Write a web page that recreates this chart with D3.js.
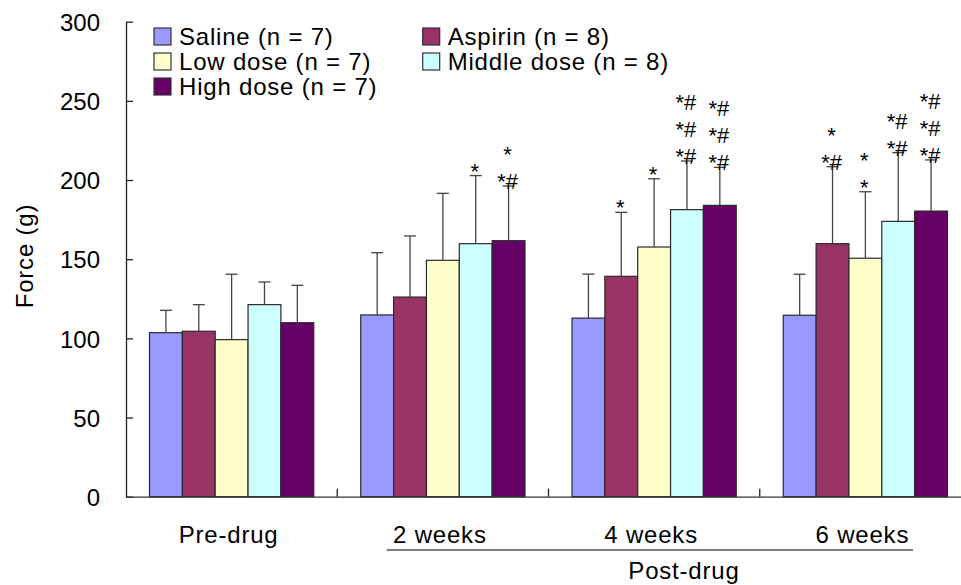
<!DOCTYPE html>
<html>
<head>
<meta charset="utf-8">
<script src="https://cdn.jsdelivr.net/npm/d3@7"></script>
<style>
  body { margin: 0; background: #fff; }
  svg { display: block; font-family: "Liberation Sans", Arial, sans-serif; }
  .lbl { letter-spacing: 0.8px; }
</style>
</head>
<body>
<svg id="chart" width="961" height="585"></svg>
<script>
// groups along the x axis and the five treatment series
const groups = ["Pre-drug", "2 weeks", "4 weeks", "6 weeks"];
const series = ["Saline (n = 7)", "Aspirin (n = 8)", "Low dose (n = 7)", "Middle dose (n = 8)", "High dose (n = 7)"];
const colors = ["#9999ff", "#993366", "#ffffcc", "#ccffff", "#660066"];

// means per series, one value for each group
const saline = [103.6, 114.8, 112.8, 114.6];
const aspirin = [104.5, 126.1, 139.2, 159.8];
const lowDose = [99.2, 149.3, 157.7, 150.6];
const middleDose = [121.3, 159.8, 181.3, 173.9];
const highDose = [109.9, 161.7, 184.0, 180.4];

// top of the error bars (mean + SD)
const salineErr = [117.7, 154.1, 140.6, 140.5];
const aspirinErr = [121.3, 164.7, 179.6, 208.4];
const lowDoseErr = [140.5, 191.6, 200.8, 192.6];
const middleDoseErr = [135.6, 202.8, 212.0, 217.3];
const highDoseErr = [133.5, 196.2, 208.0, 212.7];

// significance marks, top line first
const salineMarks = [[], [], [], []];
const aspirinMarks = [[], [], ["*"], ["*", "*#"]];
const lowDoseMarks = [[], [], ["*"], ["*", "*"]];
const middleDoseMarks = [[], ["*"], ["*#", "*#", "*#"], ["*#", "*#"]];
const highDoseMarks = [[], ["*", "*#"], ["*#", "*#", "*#"], ["*#", "*#", "*#"]];

const yTicks = [0, 50, 100, 150, 200, 250, 300];

const means = [saline, aspirin, lowDose, middleDose, highDose];
const errs = [salineErr, aspirinErr, lowDoseErr, middleDoseErr, highDoseErr];
const marks = [salineMarks, aspirinMarks, lowDoseMarks, middleDoseMarks, highDoseMarks];

const rows = [];
groups.forEach((g, gi) => {
  series.forEach((s, si) => {
    rows.push({group: g, series: s, si, value: means[si][gi], err: errs[si][gi], marks: marks[si][gi]});
  });
});

const svg = d3.select("#chart");
const plotLeft = 126, plotRight = 971, plotTop = 21.7, plotBottom = 496.7;

const y = d3.scaleLinear().domain([0, 300]).range([plotBottom, plotTop]);
const x0 = d3.scaleBand().domain(groups).range([plotLeft, plotRight]);
const x1 = d3.scaleBand().domain(series).range([23.5, x0.bandwidth() - 23.5]);

// bars
const gBars = svg.append("g");
gBars.selectAll("rect")
  .data(rows)
  .join("rect")
    .attr("x", d => x0(d.group) + x1(d.series))
    .attr("y", d => y(d.value))
    .attr("width", x1.bandwidth())
    .attr("height", d => y(0) - y(d.value))
    .attr("fill", d => colors[d.si])
    .attr("stroke", "#2a2a2a")
    .attr("stroke-width", 1.2);

// error bars
const gErr = svg.append("g").attr("stroke", "#444").attr("stroke-width", 1.3);
const cx = d => x0(d.group) + x1(d.series) + x1.bandwidth() / 2;
gErr.selectAll("line.v")
  .data(rows)
  .join("line")
    .attr("class", "v")
    .attr("x1", cx).attr("x2", cx)
    .attr("y1", d => y(d.value)).attr("y2", d => y(d.err));
gErr.selectAll("line.cap")
  .data(rows)
  .join("line")
    .attr("class", "cap")
    .attr("x1", d => cx(d) - 6).attr("x2", d => cx(d) + 6)
    .attr("y1", d => y(d.err)).attr("y2", d => y(d.err));

// significance marks stacked above the error bars
const gMarks = svg.append("g").attr("font-size", 22).attr("text-anchor", "middle").attr("fill", "#000");
rows.forEach(d => {
  const n = d.marks.length;
  d.marks.forEach((m, i) => {
    gMarks.append("text")
      .attr("x", cx(d) - 1)
      .attr("y", y(d.err) + 3 - (n - 1 - i) * 27)
      .text(m);
  });
});

// y axis
const yAxis = d3.axisLeft(y).tickValues(yTicks).tickSizeInner(-7).tickSizeOuter(0).tickPadding(26);
const gy = svg.append("g").attr("transform", `translate(${plotLeft},0)`).call(yAxis);
gy.select(".domain").attr("stroke", "#222").attr("stroke-width", 1.3);
gy.selectAll(".tick line").attr("stroke", "#222").attr("stroke-width", 1.3);
gy.selectAll(".tick text").attr("font-size", 24).attr("fill", "#000")
  .attr("font-family", "Liberation Sans, Arial, sans-serif").attr("dy", "0.36em");

// x axis line with boundary ticks pointing up
const xAxis = d3.axisBottom(x0).tickValues([]).tickSizeOuter(0);
const gx = svg.append("g").attr("transform", `translate(0,${plotBottom})`).call(xAxis);
gx.select(".domain").attr("stroke", "#333").attr("stroke-width", 1.3);
gx.selectAll("line.bound")
  .data(groups.slice(1))
  .join("line")
    .attr("class", "bound")
    .attr("x1", d => x0(d)).attr("x2", d => x0(d))
    .attr("y1", 0).attr("y2", -8)
    .attr("stroke", "#222").attr("stroke-width", 1.3);

// group labels
svg.append("g").selectAll("text")
  .data(groups)
  .join("text")
    .attr("class", "lbl")
    .attr("x", d => x0(d) + x0.bandwidth() / 2 - 3)
    .attr("y", 543)
    .attr("text-anchor", "middle")
    .attr("font-size", 24)
    .text(d => d);

// "Post-drug" bracket
svg.append("line")
  .attr("x1", 386.7).attr("x2", 913)
  .attr("y1", 550).attr("y2", 550)
  .attr("stroke", "#000").attr("stroke-width", 1.2);
svg.append("text")
  .attr("class", "lbl")
  .attr("x", 684).attr("y", 579)
  .attr("text-anchor", "middle")
  .attr("font-size", 24)
  .text("Post-drug");

// y axis title
svg.append("text")
  .attr("class", "lbl")
  .attr("transform", "translate(33,256) rotate(-90)")
  .attr("text-anchor", "middle")
  .attr("font-size", 24)
  .text("Force (g)");

// legend, two columns
const legendPos = [[154, 28], [422.7, 28], [154, 53], [422.7, 53], [154, 78]];
const gLeg = svg.append("g");
series.forEach((s, i) => {
  const [lx, ly] = legendPos[i];
  gLeg.append("rect")
    .attr("x", lx).attr("y", ly)
    .attr("width", 17).attr("height", 17)
    .attr("fill", colors[i])
    .attr("stroke", "#333").attr("stroke-width", 1.2);
  gLeg.append("text")
    .attr("class", "lbl")
    .attr("x", lx + 25).attr("y", ly + 17)
    .attr("font-size", 24)
    .text(s);
});
</script>
</body>
</html>
